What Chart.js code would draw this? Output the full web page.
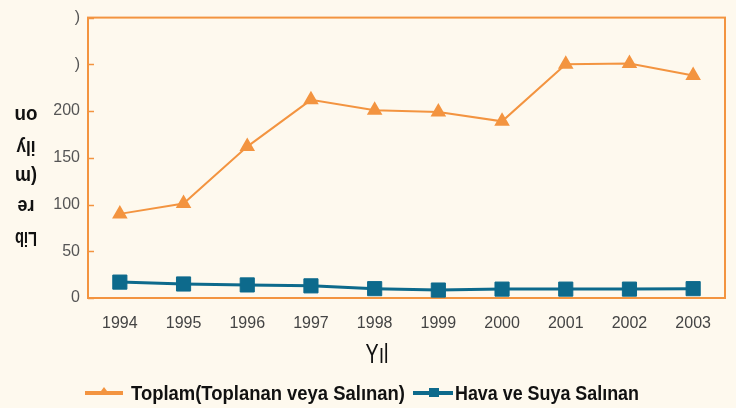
<!DOCTYPE html>
<html>
<head>
<meta charset="utf-8">
<script src="https://cdn.jsdelivr.net/npm/chart.js@4.4.1/dist/chart.umd.min.js"></script>
<style>
html, body { margin: 0; padding: 0; background: #fef9ee; }
#chart { display: block; }
</style>
</head>
<body>
<canvas id="chart" width="736" height="408"></canvas>
<script>
// data
var years = ['1994', '1995', '1996', '1997', '1998', '1999', '2000', '2001', '2002', '2003'];
var toplam = [90, 101, 162, 212, 201, 199, 189, 250, 251, 238];
var havaSuya = [17, 15, 14, 13, 10, 8.5, 9.5, 9.5, 9.5, 10];
var yTickText = ['0', '50', '100', '150', '200', ')', ')'];
var seriesNames = ['Toplam(Toplanan veya Salınan)', 'Hava ve Suya Salınan'];
var yTitleLines = ['Lib', 're', '(m', 'ily', 'on'];
var xTitle = 'Yıl';

var ORANGE = '#f39440';
var TEAL = '#0d6a8c';
var SANS = '"Liberation Sans", Arial, sans-serif';

var frame = {
    id: 'frame',
    beforeDatasetsDraw: function(chart) {
        var c = chart.ctx, a = chart.chartArea, y = chart.scales.y;
        c.save();
        c.strokeStyle = ORANGE;
        c.lineWidth = 2;
        c.strokeRect(a.left, a.top, a.right - a.left, a.bottom - a.top);
        // inward tick marks on the y axis
        c.lineWidth = 1.5;
        y.ticks.forEach(function(t) {
            var py = Math.round(y.getPixelForValue(t.value)) + 0.5;
            c.beginPath();
            c.moveTo(a.left, py);
            c.lineTo(a.left + 6, py);
            c.stroke();
        });
        c.restore();
    },
    afterDraw: function(chart) {
        var c = chart.ctx;
        c.save();
        // y title, each piece upside down
        c.fillStyle = '#111';
        c.font = 'bold 21px ' + SANS;
        c.textAlign = 'center';
        c.textBaseline = 'middle';
        var ys = [238, 206, 176, 147, 115];
        var ws = [22, 17, 22, 19, 23];
        yTitleLines.forEach(function(s, i) {
            c.save();
            c.translate(26, ys[i]);
            c.rotate(Math.PI);
            c.fillText(s, 0, 0, ws[i]);
            c.restore();
        });
        // x title
        c.font = '27px ' + SANS;
        c.fillText(xTitle, 377, 356, 23);

        // legend
        c.textAlign = 'left';
        c.font = 'bold 20px ' + SANS;
        c.lineWidth = 4;
        c.strokeStyle = ORANGE;
        c.beginPath(); c.moveTo(85, 393); c.lineTo(123, 393); c.stroke();
        c.fillStyle = ORANGE;
        c.beginPath(); c.moveTo(104, 387); c.lineTo(110, 395); c.lineTo(98, 395); c.closePath(); c.fill();
        c.fillStyle = '#111';
        c.fillText(seriesNames[0], 131, 394, 274);

        c.strokeStyle = TEAL;
        c.beginPath(); c.moveTo(413, 393); c.lineTo(453, 393); c.stroke();
        c.fillStyle = TEAL;
        c.fillRect(429, 388, 10, 9);
        c.fillStyle = '#111';
        c.fillText(seriesNames[1], 455, 394, 184);
        c.restore();
    }
};

var ctx = document.getElementById('chart');
var myChart = new Chart(ctx, {
    type: 'line',
    data: {
        labels: years,
        datasets: [{
            label: seriesNames[1],
            data: havaSuya,
            borderColor: TEAL,
            backgroundColor: TEAL,
            borderWidth: 3,
            pointStyle: 'rect',
            pointRadius: 10,
            pointHoverRadius: 10,
            pointBorderWidth: 1,
            tension: 0,
            clip: false
        }, {
            label: seriesNames[0],
            data: toplam,
            borderColor: ORANGE,
            backgroundColor: ORANGE,
            borderWidth: 2,
            pointStyle: 'triangle',
            pointRadius: 7,
            pointHoverRadius: 7,
            tension: 0,
            clip: false
        }]
    },
    options: {
        responsive: false,
        animation: false,
        devicePixelRatio: 1,
        layout: { padding: { left: 0, top: 14, right: 5, bottom: 0 } },
        plugins: {
            legend: { display: false },
            tooltip: { enabled: false }
        },
        scales: {
            x: {
                offset: true,
                border: { display: false },
                grid: { display: false, drawTicks: false },
                ticks: {
                    color: '#444',
                    font: { family: SANS, size: 16 },
                    padding: 16,
                    maxRotation: 0
                },
                afterFit: function(scale) { scale.height = 110; }
            },
            y: {
                min: 0,
                max: 300,
                border: { display: false },
                grid: { display: false, drawTicks: false },
                ticks: {
                    stepSize: 50,
                    color: '#555',
                    font: { family: SANS, size: 16 },
                    padding: 8,
                    callback: function(v, i) { return yTickText[i]; }
                },
                afterFit: function(scale) { scale.width = 88; }
            }
        }
    },
    plugins: [frame]
});
</script>
</body>
</html>
